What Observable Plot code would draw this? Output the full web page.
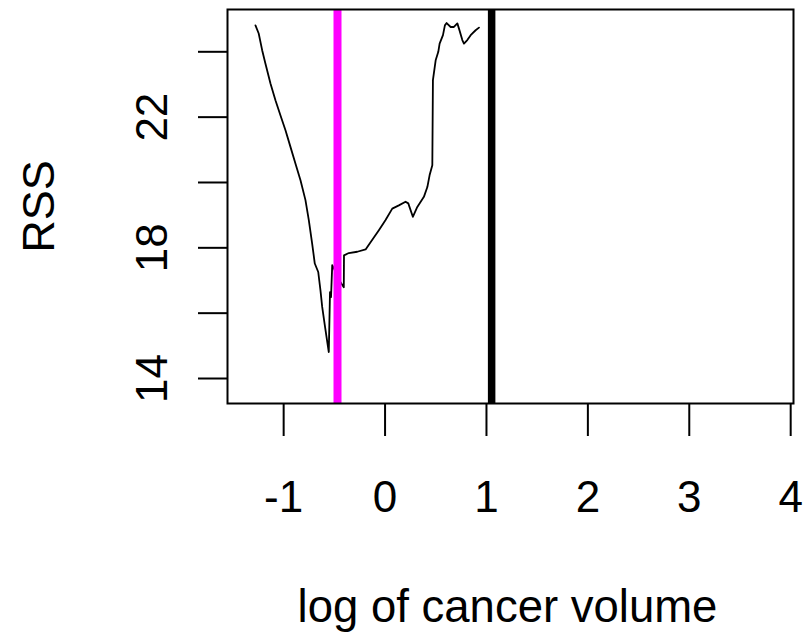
<!DOCTYPE html>
<html>
<head>
<meta charset="utf-8">
<script src="https://cdn.jsdelivr.net/npm/d3@7"></script>
<script src="https://cdn.jsdelivr.net/npm/@observablehq/plot@0.6"></script>
<style>
  html, body { margin: 0; padding: 0; background: #ffffff; }
</style>
</head>
<body>
<div id="chart"></div>
<script>
// log of cancer volume (x) vs RSS (y)
const lcavol = [-1.278, -1.246, -1.212, -1.180, -1.130, -1.081, -1.032, -0.982, -0.933, -0.884,
  -0.834, -0.785, -0.752, -0.719, -0.693, -0.659, -0.637, -0.620, -0.594, -0.577,
  -0.555, -0.543, -0.533, -0.521, -0.439, -0.407, -0.405, -0.357, -0.274, -0.192,
  -0.143, -0.061, 0.005, 0.071, 0.136, 0.202, 0.229, 0.274, 0.318, 0.383,
  0.417, 0.439, 0.466, 0.472, 0.499, 0.525, 0.538, 0.571, 0.590, 0.607,
  0.647, 0.679, 0.713, 0.729, 0.762, 0.778, 0.811, 0.844, 0.893, 0.926];
const rss = [24.81, 24.56, 24.05, 23.64, 23.03, 22.52, 22.06, 21.60, 21.09, 20.58,
  20.07, 19.46, 18.85, 18.13, 17.52, 17.26, 16.70, 16.19, 15.63, 15.27,
  14.81, 16.64, 16.49, 17.47, 16.95, 16.79, 17.77, 17.84, 17.88, 17.95,
  18.17, 18.54, 18.85, 19.20, 19.30, 19.41, 19.36, 18.95, 19.25, 19.56,
  19.86, 20.22, 20.53, 23.13, 23.74, 24.00, 24.25, 24.51, 24.81, 24.88,
  24.76, 24.76, 24.87, 24.71, 24.36, 24.25, 24.36, 24.51, 24.66, 24.74];
const magentaLine = [-0.469];
const blackLine = [1.051];
const xTicks = [-1, 0, 1, 2, 3, 4];
const yTicks = [14, 16, 18, 20, 22, 24];
const yLabelled = [14, 18, 22];
const xTitle = "log of cancer volume";
const yTitle = "RSS";

const points = lcavol.map((x, i) => ({x, y: rss[i]}));

const chart = Plot.plot({
  width: 806,
  height: 632,
  marginLeft: 227,
  marginRight: 13,
  marginTop: 9,
  marginBottom: 229,
  style: {fontFamily: "'Liberation Sans', Arial, sans-serif", fontSize: "44px", color: "black", background: "white"},
  x: {domain: [-1.5538, 4.0278]},
  y: {domain: [13.235, 25.295]},
  marks: [
    Plot.line(points, {x: "x", y: "y", stroke: "black", strokeWidth: 1.8}),
    Plot.ruleX(magentaLine, {stroke: "#ff00ff", strokeWidth: 8}),
    Plot.ruleX(blackLine, {stroke: "black", strokeWidth: 7.5}),
    Plot.frame({stroke: "black", strokeWidth: 2}),
    Plot.axisX({ticks: xTicks, tickSize: 33, tickPadding: 44, strokeWidth: 2,
      tickFormat: d => String(d), label: null, fontSize: 44}),
    Plot.axisY({ticks: yTicks, tickSize: 29, strokeWidth: 2, tickFormat: () => "", label: null}),
    Plot.axisY({ticks: yLabelled, tickSize: 0, tickPadding: 61, stroke: "none",
      tickFormat: d => String(d),
      rotate: -90, textAnchor: "middle", lineAnchor: "bottom", label: null, fontSize: 44}),
    Plot.text([xTitle], {frameAnchor: "bottom", text: d => d, lineAnchor: "bottom", dy: 218, dx: -3, fontSize: 45.5, fill: "black"}),
    Plot.text([yTitle], {frameAnchor: "left", text: d => d, rotate: -90, lineAnchor: "bottom", textAnchor: "middle", dx: -174, fontSize: 45, fill: "black"})
  ]
});
document.getElementById("chart").appendChild(chart);
</script>
</body>
</html>
